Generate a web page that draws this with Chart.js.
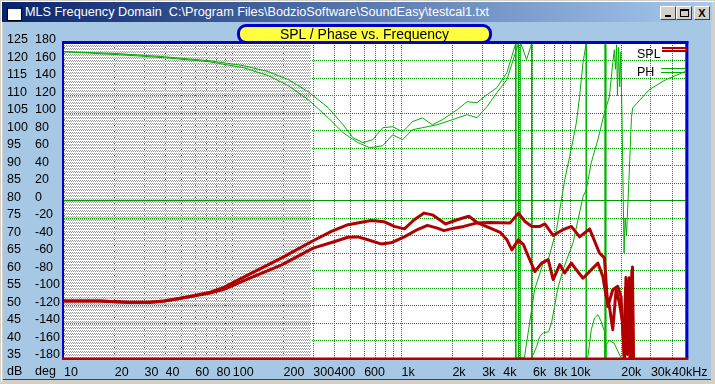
<!DOCTYPE html>
<html>
<head>
<meta charset="utf-8">
<script src="https://cdn.jsdelivr.net/npm/chart.js@4.4.1/dist/chart.umd.min.js"></script>
<style>
html, body { margin: 0; padding: 0; background: #d4d0c8; }
#win { position: relative; width: 715px; height: 384px; overflow: hidden; background: #d4d0c8; }
#edge { position: absolute; left: 1px; top: 1px; width: 712px; height: 380px; border-left: 1px solid #fff; border-top: 1px solid #fff; }
#client { position: absolute; left: 3px; top: 22px; width: 708px; height: 357px; background: #a6c8e4; border-bottom: 1px solid #404040; }
#titlebar { position: absolute; left: 2px; top: 2px; width: 710px; height: 20px; background: linear-gradient(to right, #0a246a, #a6caf0); }
#icon { position: absolute; left: 5px; top: 4px; width: 13px; height: 11px; background: #fff; border: 1px solid #000; border-top: 3px solid #0a246a; }
#ttext { position: absolute; left: 23px; top: 3px; color: #fff; font: 12px 'Liberation Sans', Arial, sans-serif; white-space: nowrap; transform-origin: 0 0; }
.btn { position: absolute; top: 4px; width: 16px; height: 14px; box-sizing: border-box; background: #d4d0c8;
  border-top: 1px solid #fff; border-left: 1px solid #fff; border-right: 1px solid #404040; border-bottom: 1px solid #404040;
  font: bold 11px 'Liberation Sans', Arial, sans-serif; color: #000; text-align: center; line-height: 12px; }
#bmin { left: 658px; } #bmax { left: 674px; } #bcls { left: 692px; }
#bmin::after { content: ''; position: absolute; left: 4px; top: 8px; width: 6px; height: 2px; background: #000; }
#bmax::after { content: ''; position: absolute; left: 3px; top: 2px; width: 7px; height: 5px; border: 1px solid #000; border-top-width: 2px; }
#plot { position: absolute; left: 0; top: 0; width: 715px; height: 384px; }
#ctitle { position: absolute; left: 237px; top: 24px; width: 255px; height: 20px; box-sizing: border-box; background: #ffff40;
  border: 3px solid #0000c8; border-radius: 9px; text-align: center; font: 14px 'Liberation Sans', Arial, sans-serif; line-height: 14px; color: #000; }
</style>
</head>
<body>
<div id="win">
  <div id="edge"></div>
  <div id="client"></div>
  <div id="plot"><canvas id="c" width="715" height="384"></canvas></div>
  <div id="titlebar">
    <div id="icon"></div>
    <span id="ttext">MLS Frequency Domain&nbsp; C:\Program Files\BodzioSoftware\SoundEasy\testcal1.txt</span>
    <div class="btn" id="bmin"></div><div class="btn" id="bmax"></div><div class="btn" id="bcls">X</div>
  </div>
  <div id="ctitle">SPL / Phase vs. Frequency</div>
</div>
<script>
// grid / tick positions on the frequency axis
const tickValues = [10, 20, 30, 40, 60, 80, 100, 200, 300, 400, 600, 1000, 2000, 3000, 4000, 6000, 8000, 10000, 20000, 30000, 40000];
const tickLabels = ['10', '20', '30', '40', '60', '80', '100', '200', '300', '400', '600', '1k', '2k', '3k', '4k', '6k', '8k', '10k', '20k', '30k', '40kHz'];
const hatchEnd = 290; // Hz, shaded low-frequency region

// SPL, measurement 1 (dB)
const splFreqA = [10, 16.3, 23.8, 32.1, 39.3, 48.1, 59, 72.2, 88.5, 124, 195, 299, 384, 481, 660, 791, 906, 1038, 1188,
  1360, 1522, 1824, 2135, 2502, 2799, 3352, 3840, 4204, 4500, 4925, 5270, 5637, 6166, 6749, 7390, 7907, 8650, 9253, 10140,
  10840, 11880, 13300, 14560, 15570, 16290, 17030, 17830, 18660, 19510, 20420, 20800, 21200, 21630, 22080, 22540, 23160, 23640, 24500];
const splDbA = [51.3, 51.3, 50.9, 50.9, 51.3, 52.0, 52.8, 53.7, 55.2, 58.8, 63.6, 68.5, 71.2, 73.1, 74.3, 73.9, 72.6, 71.9, 74.5,
  76.4, 75.9, 73.3, 74.5, 75.5, 73.7, 72.1, 70.9, 68.8, 65.9, 68.8, 67.4, 64.0, 59.7, 62.1, 63.1, 57.4, 61.7, 59.3, 62.1,
  60.2, 57.8, 60.2, 62.1, 58.3, 52.6, 49.7, 43.1, 54.5, 50.8, 45.0, 35, 55, 38, 57, 35, 60, 35, 20];

// SPL, measurement 2 (dB)
const splFreqB = [10, 16.3, 23.8, 32.1, 39.3, 48.1, 59, 72.2, 88.5, 124, 195, 299, 402, 481, 551, 631, 755, 865, 1038,
  1242, 1422, 1629, 1782, 2042, 2338, 2799, 3352, 4395, 4925, 5383, 5898, 6597, 7063, 7907, 9061, 10140, 11340, 13000, 14860,
  15910, 16660, 17830, 19070, 19950, 20420, 20940, 21340, 21780, 22320, 22700, 23330, 23640, 24500];
const splDbB = [51.3, 51.3, 50.9, 50.9, 51.3, 52.0, 52.8, 53.5, 54.6, 57.7, 61.6, 66.4, 68.3, 69.5, 69.6, 68.8, 67.6, 67.9, 69.6,
  71.7, 72.9, 72.1, 71.4, 72.1, 72.6, 73.6, 73.7, 73.6, 76.4, 74.0, 72.6, 72.6, 73.3, 70.0, 71.7, 72.6, 69.6, 71.9, 65.0,
  63.6, 49.7, 54.5, 55.5, 52.6, 43.1, 35, 58, 36, 57.9, 35, 61, 30, 20];

// phase, measurement 1 (deg, wrapped)
const phFreqA = [10, 21.3, 39.3, 72.3, 116, 163, 213.5, 280, 367, 450, 515, 590, 675, 773, 885, 1014, 1161, 1329, 1522, 1743,
  2135, 2445, 2799, 3205, 3670, 4203, 4621, 4748, 4748, 5341, 6138, 6908, 7393, 8272, 9258, 9907, 10373, 10847, 11342, 11878,
  12420, 12420, 12700, 13300, 13900, 14550, 15210, 15910, 16000, 16000, 16000, 16200, 16200, 16300, 16940, 18150, 19420, 20000];
const phDegA = [170.1, 167.8, 164.3, 159.8, 154.1, 147.2, 138.1, 124.3, 106.1, 86.6, 71.8, 66.1, 69.5, 83.2, 84.3, 78.5, 90.1, 94.5, 86.6, 92.3,
  103.8, 112.9, 111.8, 120.9, 128.9, 146, 172.3, 180, -180, -179.7, -101.9, -71.1, -67.7, -33.4, 23.8, 50.4, 69.5, 88.9, 119, 157.5,
  180, -180, -178.2, -147.7, -134.3, -130.5, -138.2, -149.6, -152, -180, 180, 178, -180, -165, -160, -163, -175, -180];

// phase, measurement 2 (deg, wrapped)
const phFreqB = [10, 21.3, 39.3, 72.3, 116, 163, 213.5, 280, 367, 450, 551, 648, 773, 885, 1014, 1161, 1329, 1629, 1995, 2445,
  2799, 3205, 3670, 4203, 4685, 4925, 4925, 5050, 5050, 5200, 5500, 5800, 5900, 5900, 6310, 6570, 6938, 7424, 7732, 8054,
  8385, 9057, 10373, 11878, 12420, 13290, 14550, 15910, 17030, 17830, 18220, 18500, 18800, 19000, 19300, 19600, 19900, 20200,
  20500, 20800, 21100, 21500, 22300, 23000, 23380, 29280, 36700, 48000];
const phDegB = [170.1, 166.6, 163.2, 158.6, 151.7, 142.6, 131.2, 115.2, 94.6, 77.5, 66.1, 60.3, 62.6, 75.1, 69.5, 80.9, 83.2, 86.6, 92.3, 98.1,
  94.6, 107.2, 123.2, 138.1, 166.6, 180, -180, -180, 180, 175, 161, 175, 180, -180, -167, -155.7, -151.1, -149.9, -139.7, -121.4,
  -101.9, -79, -48.2, 4.4, 12.3, 43.2, 69.5, 100.3, 118.6, 157.5, 172.3, 150, 178, 120, 175, 130, 170, 100,
  20, -60, -20, -40, 30, 95, 105.7, 126.6, 138, 147.5];

const splColor = '#b00000';
const phColor = '#00b000';
const gridColor = '#009c00';
const font = { family: "'Liberation Sans Narrow', 'Liberation Sans', Arial, sans-serif", size: 12.5 };

const pts = (fs, vs) => fs.map((f, i) => ({ x: f, y: vs[i] }));

// hatch tile for the shaded region: gray dots on white, one row left open
const tile = document.createElement('canvas');
tile.width = 2; tile.height = 3;
const tctx = tile.getContext('2d');
tctx.fillStyle = '#fff';
tctx.fillRect(0, 0, 2, 2);
tctx.fillStyle = '#9a9a9a';
tctx.fillRect(0, 0, 1, 1);
tctx.fillRect(1, 1, 1, 1);

const framePlugin = {
  id: 'frame',
  beforeDraw(chart) {
    const { ctx, chartArea: a } = chart;
    ctx.save();
    ctx.fillStyle = '#fff';
    ctx.fillRect(a.left, a.top, a.right - a.left, a.bottom - a.top);
    ctx.restore();
  },
  beforeDatasetsDraw(chart) {
    const { ctx, chartArea: a, scales } = chart;
    const xEnd = scales.x.getPixelForValue(hatchEnd);
    ctx.save();
    ctx.fillStyle = ctx.createPattern(tile, 'repeat');
    ctx.fillRect(a.left, a.top, xEnd - a.left, a.bottom - a.top);
    ctx.restore();
  },
  afterDraw(chart) {
    const { ctx, chartArea: a, scales } = chart;
    ctx.save();
    ctx.fillStyle = '#0000c8';
    ctx.fillRect(a.left - 2, a.top - 2, a.right - a.left + 5, 3);
    ctx.fillRect(a.left - 2, a.top - 2, 2, a.bottom - a.top + 2);
    ctx.fillRect(a.right, a.top - 2, 3, a.bottom - a.top + 2);
    ctx.fillStyle = splColor;
    ctx.fillRect(a.left - 2, a.bottom - 0.5, a.right - a.left + 5, 2.5);
    // legend
    ctx.font = "12.5px 'Liberation Sans Narrow', 'Liberation Sans', Arial, sans-serif";
    ctx.fillStyle = '#000';
    ctx.textBaseline = 'middle';
    ctx.textAlign = 'left';
    ctx.fillText('SPL', 637, 55);
    ctx.fillText('PH', 637, 73);
    ctx.fillStyle = splColor;
    ctx.fillRect(662, 47, 25, 2);
    ctx.fillRect(662, 50, 25, 2);
    ctx.fillStyle = phColor;
    ctx.fillRect(661, 68, 25, 1);
    ctx.fillRect(661, 72, 25, 1);
    // axis unit captions
    ctx.fillStyle = '#000';
    ctx.fillText('dB', scales.y.left, 372);
    ctx.fillText('deg', scales.y2.left, 372);
    ctx.restore();
  }
};

new Chart(document.getElementById('c'), {
  type: 'line',
  data: {
    datasets: [
      { label: 'SPL', data: pts(splFreqA, splDbA), yAxisID: 'y', borderColor: splColor, borderWidth: 3 },
      { label: 'SPL 2', data: pts(splFreqB, splDbB), yAxisID: 'y', borderColor: splColor, borderWidth: 3 },
      { label: 'PH', data: pts(phFreqA, phDegA), yAxisID: 'y2', borderColor: phColor, borderWidth: 1 },
      { label: 'PH 2', data: pts(phFreqB, phDegB), yAxisID: 'y2', borderColor: phColor, borderWidth: 1 }
    ]
  },
  options: {
    responsive: false,
    devicePixelRatio: 1,
    animation: false,
    elements: { point: { radius: 0 }, line: { tension: 0, borderJoinStyle: 'round' } },
    layout: { padding: { left: 7, top: 43, right: 26, bottom: 0 } },
    plugins: { legend: { display: false }, tooltip: { enabled: false } },
    scales: {
      x: {
        type: 'logarithmic', min: 10, max: 48000,
        afterBuildTicks: (s) => {
          const vals = [];
          [10, 100, 1000, 10000].forEach(d => { for (let m = 1; m <= 9; m++) if (m * d <= 48000) vals.push(m * d); });
          s.ticks = vals.map(v => ({ value: v }));
        },
        afterFit: (s) => { s.height = 26; },
        ticks: {
          autoSkip: false, maxRotation: 0, align: 'start', padding: 7, color: '#000', font,
          callback: (v) => { const i = tickValues.indexOf(v); return i >= 0 ? tickLabels[i] : ''; }
        },
        grid: { color: gridColor, drawTicks: false },
        border: { display: false, dash: [1, 1] }
      },
      y: {
        position: 'left', weight: 2, min: 35, max: 125,
        afterFit: (s) => { s.width = 28; },
        ticks: { stepSize: 5, autoSkip: false, crossAlign: 'far', labelOffset: -3, padding: 0, color: '#000', font },
        grid: { color: gridColor, drawTicks: false },
        border: { display: false, dash: (c) => (c.tick && c.tick.value === 80) ? [] : [1, 1] }
      },
      y2: {
        position: 'left', weight: 1, min: -180, max: 180,
        afterFit: (s) => { s.width = 29; },
        ticks: { stepSize: 20, autoSkip: false, crossAlign: 'far', labelOffset: -3, padding: 0, color: '#000', font },
        grid: { drawOnChartArea: false, drawTicks: false },
        border: { display: false }
      }
    }
  },
  plugins: [framePlugin]
});

// fit the window caption to its width
const tt = document.getElementById('ttext');
tt.style.transform = 'scaleX(' + (464 / tt.getBoundingClientRect().width) + ')';
</script>
</body>
</html>
